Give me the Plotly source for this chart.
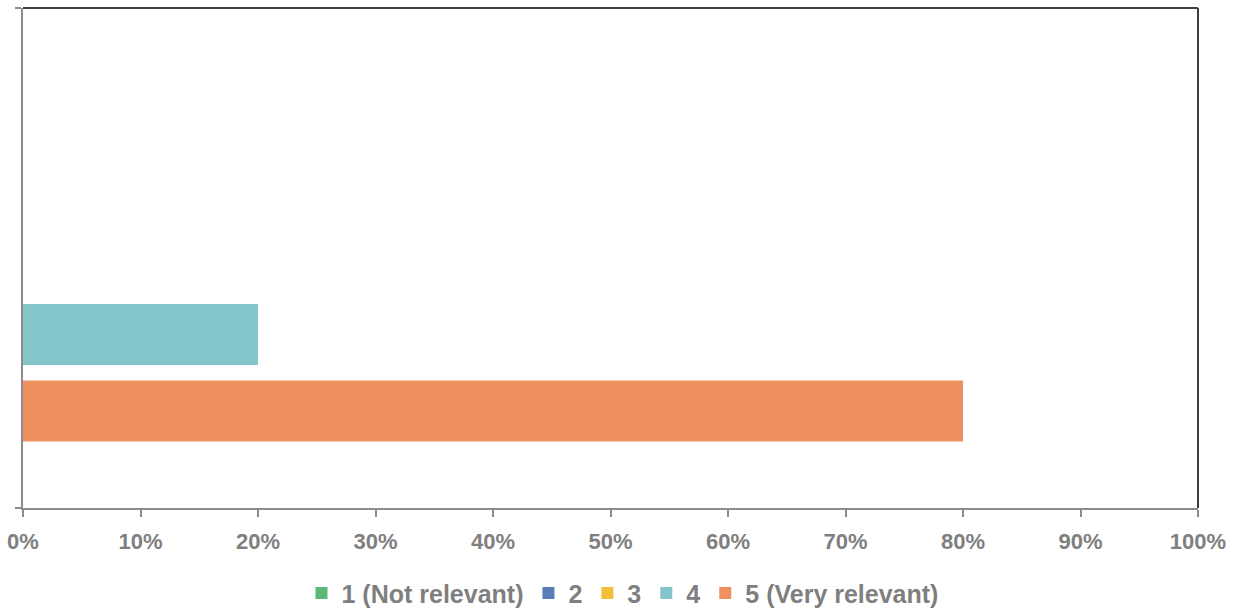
import plotly.graph_objects as go

# Survey answer shares for a single question, one bar per rating level
category = ["Relevance"]
series_names = ["1 (Not relevant)", "2", "3", "4", "5 (Very relevant)"]
series_values = [0.0, 0.0, 0.0, 0.20, 0.80]
series_colors = ["#5bb974", "#5a7db8", "#f2c03c", "#84c5ca", "#ef915f"]
tick_values = [0, 0.1, 0.2, 0.3, 0.4, 0.5, 0.6, 0.7, 0.8, 0.9, 1.0]

FONT = "Liberation Sans, Arial, sans-serif"
GRAY_TEXT = "#7f7f7f"
AXIS_GRAY = "#8c8c8c"
FRAME_DARK = "#404040"

fig = go.Figure()
for name, val, col in zip(series_names, series_values, series_colors):
    fig.add_trace(go.Bar(
        name=name,
        y=category,
        x=[val],
        orientation="h",
        marker=dict(color=col, line=dict(width=0)),
    ))

fig.update_layout(
    width=1240,
    height=609,
    margin=dict(l=23, r=42, t=8, b=101),
    paper_bgcolor="white",
    plot_bgcolor="white",
    barmode="group",
    bargap=0.235,
    bargroupgap=0.2,
    showlegend=True,
    legend=dict(
        orientation="h",
        xref="container",
        yref="container",
        x=0.502,
        xanchor="center",
        y=0.026,
        yanchor="middle",
        font=dict(family=FONT, size=25, color=GRAY_TEXT, weight="bold"),
        itemwidth=30,
        tracegroupgap=0,
    ),
    xaxis=dict(
        range=[0, 1],
        tickvals=tick_values,
        tickformat=".0%",
        showgrid=False,
        zeroline=False,
        showline=True,
        linecolor=AXIS_GRAY,
        linewidth=2,
        ticks="outside",
        ticklen=7,
        tickwidth=2,
        tickcolor=AXIS_GRAY,
        ticklabelstandoff=6,
        tickfont=dict(family=FONT, size=22, color=GRAY_TEXT, weight="bold"),
    ),
    yaxis=dict(
        autorange="reversed",
        showticklabels=False,
        showgrid=False,
        zeroline=False,
        showline=True,
        linecolor=AXIS_GRAY,
        linewidth=2,
        ticks="outside",
        tickson="boundaries",
        ticklen=6,
        tickwidth=2,
        tickcolor=AXIS_GRAY,
    ),
)

# Darker top and right edges of the plot frame
fig.add_shape(type="line", xref="paper", yref="paper", x0=0, x1=1, y0=1, y1=1,
              line=dict(color=FRAME_DARK, width=2))
fig.add_shape(type="line", xref="paper", yref="paper", x0=1, x1=1, y0=0, y1=1,
              line=dict(color=FRAME_DARK, width=2))

fig.write_html("out.html")
